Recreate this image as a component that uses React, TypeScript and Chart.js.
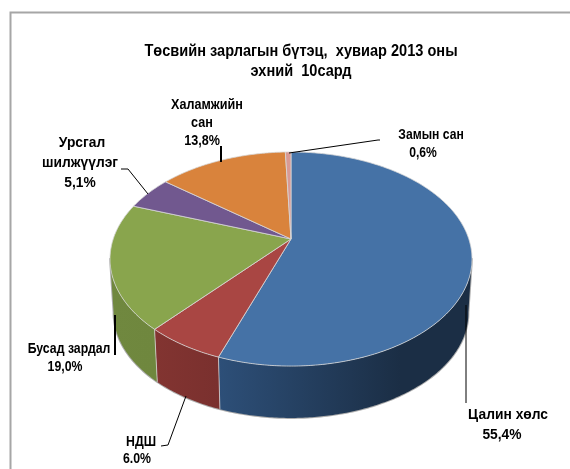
import React, { useEffect, useRef } from "react";
import { Chart, registerables } from "chart.js";

Chart.register(...registerables);

const categories = ["Цалин хөлс", "НДШ", "Бусад зардал", "Урсгал шилжүүлэг", "Халамжийн сан", "Замын сан"];
const shares = [55.4, 6.0, 19.0, 5.1, 13.8, 0.6];
const topColors = ["#4572a6", "#a94643", "#89a54d", "#71588f", "#d9833c", "#d99a94"];
const wallLeftColors = ["#2d4f78", "#823431", "#70883f", "#584570", "#a8652e", "#a87570"];
const wallRightColors = ["#1b2e45", "#7a302e", "#6f873e", "#584570", "#a8652e", "#a87570"];
const titleLines = ["Төсвийн зарлагын бүтэц,  хувиар 2013 оны", "эхний  10сард"];

const FONT = '"Liberation Sans", Arial, sans-serif';

const labelBlocks = [
  { squeeze: 0.84, lines: [["Халамжийн", 207, 105], ["сан", 202, 123], ["13,8%", 202, 141]] },
  { squeeze: 0.92, lines: [["Урсгал", 82, 143], ["шилжүүлэг", 80, 163], ["5,1%", 80, 183]] },
  { squeeze: 0.81, lines: [["Замын сан", 431, 135], ["0,6%", 423, 153]] },
  { squeeze: 0.82, lines: [["Бусад зардал", 69, 349], ["19,0%", 65, 367]] },
  { squeeze: 0.82, lines: [["НДШ", 141, 442], ["6.0%", 137, 459]] },
  { squeeze: 0.92, lines: [["Цалин хөлс", 508, 415], ["55,4%", 502, 435]] },
] as { squeeze: number; lines: [string, number, number][] }[];

const leaders: [number, number][][] = [
  [[221, 146], [221, 162]],
  [[121, 169], [128, 169], [148, 194]],
  [[289, 153], [378, 140], [380, 140]],
  [[115, 315], [115, 355]],
  [[186, 396], [168, 445], [161, 446]],
  [[466, 305], [466, 403]],
];
const leaderWidths = [2, 1, 1, 2, 1, 1];

// Perspective projection of the unit disc on to the page.
const AX = 291, AY = 239, SX = 177.8, SY = 103.3, K = -0.187;
const ELLIPSE_CY = 259, WALL_CY = 313, WALL_SCALE = 0.98;
const WALL_FROM = 0.18, WALL_TO = Math.PI - 0.18;

function topPoint(a: number): [number, number] {
  const u = Math.cos(a), v = Math.sin(a), d = 1 + K * v;
  return [AX + (SX * u) / d, AY + (SY * v) / d];
}
function wallPoint(a: number): [number, number] {
  const [x, y] = topPoint(a);
  return [AX + WALL_SCALE * (x - AX), WALL_CY + WALL_SCALE * (y - ELLIPSE_CY)];
}

function drawText(ctx: CanvasRenderingContext2D, t: string, x: number, y: number, squeeze: number) {
  ctx.save();
  ctx.translate(x, y);
  ctx.scale(squeeze, 1);
  ctx.fillText(t, 0, 0);
  ctx.restore();
}

const pie3d = {
  id: "pie3d",
  beforeDatasetsDraw(chart: any) {
    const ctx: CanvasRenderingContext2D = chart.ctx;
    const arcs: any[] = chart.getDatasetMeta(0).data;
    ctx.save();

    // frame
    ctx.strokeStyle = "#a6a6a6";
    ctx.lineWidth = 2;
    ctx.beginPath();
    ctx.moveTo(10.5, 469);
    ctx.lineTo(10.5, 12.5);
    ctx.lineTo(570, 12.5);
    ctx.stroke();

    // title
    ctx.fillStyle = "#000";
    ctx.textAlign = "center";
    ctx.textBaseline = "middle";
    ctx.font = `bold 16px ${FONT}`;
    drawText(ctx, titleLines[0], 301, 52, 0.91);
    drawText(ctx, titleLines[1], 301, 72, 0.91);

    // soft outer edge of the side wall
    ctx.beginPath();
    {
      const s = topPoint(WALL_FROM);
      ctx.moveTo(s[0], s[1]);
      for (let i = 0; i <= 180; i++) {
        const p = wallPoint(WALL_FROM + ((WALL_TO - WALL_FROM) * i) / 180);
        ctx.lineTo(p[0], p[1]);
      }
      const e = topPoint(WALL_TO);
      ctx.lineTo(e[0], e[1]);
    }
    ctx.strokeStyle = "rgba(90,90,90,0.5)";
    ctx.lineWidth = 2;
    ctx.stroke();

    // side wall, one closed path per slice, visible front part only
    arcs.forEach((arc, i) => {
      const start = Math.max(arc.startAngle, WALL_FROM);
      const end = Math.min(arc.endAngle, WALL_TO);
      if (end <= start) return;
      const xs: number[] = [];
      const n = Math.max(2, Math.ceil((end - start) * 90));
      const at = (k: number) => start + ((end - start) * k) / n;
      ctx.beginPath();
      for (let k = 0; k <= n; k++) {
        const p = topPoint(at(k));
        xs.push(p[0]);
        if (k === 0) ctx.moveTo(p[0], p[1]);
        else ctx.lineTo(p[0], p[1]);
      }
      for (let k = n; k >= 0; k--) {
        const p = wallPoint(at(k));
        ctx.lineTo(p[0], p[1]);
      }
      ctx.closePath();
      const from = i === 0 ? 219 : Math.min(...xs);
      const to = i === 0 ? 400 : Math.max(...xs, from + 1);
      const g = ctx.createLinearGradient(from, 0, to, 0);
      g.addColorStop(0, wallLeftColors[i]);
      g.addColorStop(1, wallRightColors[i]);
      ctx.fillStyle = g;
      ctx.fill();
    });

    // seams on the wall
    ctx.strokeStyle = "rgba(215,215,215,0.75)";
    ctx.lineWidth = 1;
    [arcs[1], arcs[2]].forEach((arc) => {
      const t = topPoint(arc.startAngle), w = wallPoint(arc.startAngle);
      ctx.beginPath();
      ctx.moveTo(t[0], t[1]);
      ctx.lineTo(w[0], w[1]);
      ctx.stroke();
    });

    // top face
    arcs.forEach((arc, i) => {
      ctx.beginPath();
      ctx.moveTo(AX, AY);
      const n = Math.max(2, Math.ceil((arc.endAngle - arc.startAngle) * 90));
      for (let k = 0; k <= n; k++) {
        const p = topPoint(arc.startAngle + ((arc.endAngle - arc.startAngle) * k) / n);
        ctx.lineTo(p[0], p[1]);
      }
      ctx.closePath();
      ctx.fillStyle = topColors[i];
      ctx.fill();
      ctx.strokeStyle = "rgba(215,215,215,0.8)";
      ctx.lineWidth = 1;
      ctx.stroke();
    });

    // leader lines
    ctx.strokeStyle = "#000";
    leaders.forEach((line, idx) => {
      ctx.lineWidth = leaderWidths[idx];
      ctx.beginPath();
      line.forEach(([x, y], i) => (i === 0 ? ctx.moveTo(x, y) : ctx.lineTo(x, y)));
      ctx.stroke();
    });

    // data labels
    ctx.fillStyle = "#000";
    ctx.font = `bold 15px ${FONT}`;
    labelBlocks.forEach((b) => b.lines.forEach(([t, x, y]) => drawText(ctx, t, x, y, b.squeeze)));

    ctx.restore();
    return false;
  },
};

export default function App() {
  const ref = useRef<HTMLCanvasElement>(null);
  useEffect(() => {
    const chart = new Chart(ref.current!, {
      type: "pie",
      data: {
        labels: categories,
        datasets: [{ data: shares, backgroundColor: topColors, borderWidth: 0 }],
      },
      options: {
        responsive: false,
        animation: false,
        rotation: 0,
        plugins: {
          legend: { display: false },
          tooltip: { enabled: false },
          title: { display: false },
        },
      },
      plugins: [pie3d],
    } as any);
    return () => chart.destroy();
  }, []);
  return (
    <div style={{ position: "absolute", left: 0, top: 0, width: 570, height: 469, background: "#fff", overflow: "hidden" }}>
      <canvas ref={ref} width={570} height={469} style={{ display: "block" }} />
    </div>
  );
}
